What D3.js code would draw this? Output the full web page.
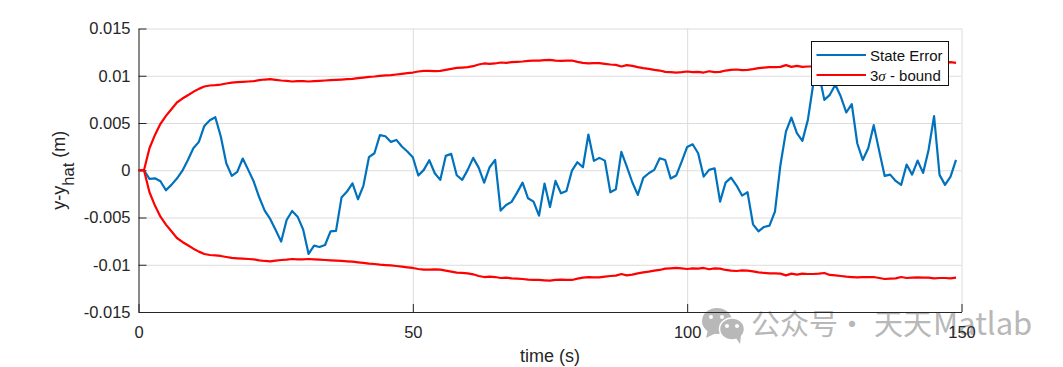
<!DOCTYPE html>
<html>
<head>
<meta charset="utf-8">
<script src="https://cdn.jsdelivr.net/npm/d3@7"></script>
<style>
  html, body { margin: 0; padding: 0; background: #fff; }
  svg { display: block; font-family: "Liberation Sans", Arial, sans-serif; }
</style>
</head>
<body>
<svg id="grafico" width="1063" height="367"></svg>
<script>
// valores en unidades de 1e-3 m, un punto por segundo (t = 0..149)
const stateError = [
  0, 0, -0.92, -0.85, -1.16, -2.12, -1.55, -0.88, -0.04, 1.09,
  2.33, 3.00, 4.69, 5.30, 5.61, 3.57, 0.74, -0.60, -0.18, 1.24,
  0.04, -1.20, -2.86, -4.27, -5.15, -6.32, -7.55, -5.26, -4.31, -4.91,
  -6.25, -8.86, -7.98, -8.12, -7.91, -6.46, -6.42, -2.89, -2.26, -1.38,
  -3.07, -1.62, 1.38, 1.80, 3.71, 3.60, 3.00, 3.21, 2.51, 1.98,
  1.38, -0.56, 0.04, 1.06, -0.32, -1.02, 1.52, 1.73, -0.53, -1.02,
  0.04, 1.31, 0.28, -1.31, 0.32, 1.09, -4.27, -3.67, -3.35, -2.37,
  -1.31, -2.97, -3.32, -4.80, -1.41, -3.88, -1.13, -2.44, -2.19, -0.04,
  0.85, 0.32, 3.78, 0.99, 1.31, 1.02, -2.33, -2.01, 1.94, 0.39,
  -1.27, -2.61, -0.81, -0.32, 0.04, 1.27, 1.09, -0.88, -0.56, 0.92,
  2.47, 2.75, 1.80, -0.67, 0.04, 0.21, -3.32, -1.31, -0.78, -1.62,
  -2.68, -2.33, -5.72, -6.46, -6.00, -5.86, -4.38, 0.56, 4.09, 5.58,
  3.92, 3.11, 5.33, 9.21, 10.27, 7.45, 7.98, 9.04, 7.80, 6.11,
  6.99, 2.86, 1.09, 2.33, 4.77, 2.05, -0.60, -0.46, -1.13, -1.55,
  0.60, -0.46, 1.02, -0.28, 2.15, 5.72, -0.49, -1.55, -0.67, 1.09
];

const boundUpper = [
  0, 0, 2.33, 3.74, 4.91, 5.75, 6.46, 7.17, 7.59, 7.94,
  8.30, 8.61, 8.86, 8.97, 9.00, 9.07, 9.18, 9.28, 9.32, 9.35,
  9.39, 9.43, 9.53, 9.60, 9.64, 9.57, 9.50, 9.46, 9.39, 9.43,
  9.43, 9.39, 9.43, 9.46, 9.50, 9.53, 9.57, 9.60, 9.64, 9.67,
  9.74, 9.81, 9.88, 9.92, 9.99, 10.03, 10.06, 10.13, 10.20, 10.27,
  10.34, 10.45, 10.52, 10.52, 10.48, 10.52, 10.63, 10.73, 10.84, 10.87,
  10.91, 11.01, 11.19, 11.30, 11.26, 11.30, 11.40, 11.37, 11.44, 11.47,
  11.51, 11.58, 11.61, 11.61, 11.65, 11.68, 11.61, 11.58, 11.61, 11.61,
  11.47, 11.37, 11.30, 11.33, 11.33, 11.26, 11.19, 11.15, 10.98, 11.12,
  11.05, 10.91, 10.80, 10.73, 10.63, 10.55, 10.41, 10.38, 10.34, 10.38,
  10.45, 10.38, 10.41, 10.34, 10.48, 10.38, 10.41, 10.55, 10.63, 10.66,
  10.59, 10.63, 10.70, 10.80, 10.87, 10.91, 10.91, 10.94, 11.12, 10.94,
  11.05, 10.94, 10.98, 10.98, 10.94, 10.87, 11.08, 11.12, 11.19, 11.26,
  11.30, 11.33, 11.30, 11.30, 11.30, 11.40, 11.51, 11.47, 11.44, 11.30,
  11.40, 11.37, 11.33, 11.37, 11.37, 11.44, 11.40, 11.40, 11.44, 11.37
];

const boundLower = [
  0, 0, -2.33, -3.74, -4.91, -5.75, -6.46, -7.17, -7.59, -7.94,
  -8.30, -8.61, -8.86, -8.97, -9.00, -9.07, -9.18, -9.28, -9.32, -9.35,
  -9.39, -9.43, -9.53, -9.60, -9.64, -9.57, -9.50, -9.46, -9.39, -9.43,
  -9.43, -9.39, -9.43, -9.46, -9.50, -9.53, -9.57, -9.60, -9.64, -9.67,
  -9.74, -9.81, -9.88, -9.92, -9.99, -10.03, -10.06, -10.13, -10.20, -10.27,
  -10.34, -10.45, -10.52, -10.52, -10.48, -10.52, -10.63, -10.73, -10.84, -10.87,
  -10.91, -11.01, -11.19, -11.30, -11.26, -11.30, -11.40, -11.37, -11.44, -11.47,
  -11.51, -11.58, -11.61, -11.61, -11.65, -11.68, -11.61, -11.58, -11.61, -11.61,
  -11.47, -11.37, -11.30, -11.33, -11.33, -11.26, -11.19, -11.15, -10.98, -11.12,
  -11.05, -10.91, -10.80, -10.73, -10.63, -10.55, -10.41, -10.38, -10.34, -10.38,
  -10.45, -10.38, -10.41, -10.34, -10.48, -10.38, -10.41, -10.55, -10.63, -10.66,
  -10.59, -10.63, -10.70, -10.80, -10.87, -10.91, -10.91, -10.94, -11.12, -10.94,
  -11.05, -10.94, -10.98, -10.98, -10.94, -10.87, -11.08, -11.12, -11.19, -11.26,
  -11.30, -11.33, -11.30, -11.30, -11.30, -11.40, -11.51, -11.47, -11.44, -11.30,
  -11.40, -11.37, -11.33, -11.37, -11.37, -11.44, -11.40, -11.40, -11.44, -11.37
];

const xTicks = [0, 50, 100, 150];
const yTicks = [-0.015, -0.01, -0.005, 0, 0.005, 0.01, 0.015];
const yTickLabels = ["-0.015", "-0.01", "-0.005", "0", "0.005", "0.01", "0.015"];

const svg = d3.select("#grafico");

const margin = {top: 28.5, right: 101.5, bottom: 55, left: 138.5},
      width = +svg.attr("width") - margin.left - margin.right,
      height = +svg.attr("height") - margin.top - margin.bottom;

// marca de agua, queda debajo del grafico
const wm = svg.append("g").attr("fill", "#b8b8b8");
wm.append("ellipse").attr("cx", 717).attr("cy", 321).attr("rx", 15).attr("ry", 13);
wm.append("path").attr("d", "M708 330 L706 338 L716 333 Z");
wm.append("ellipse").attr("cx", 732).attr("cy", 329).attr("rx", 12.5).attr("ry", 11).attr("stroke", "#fff").attr("stroke-width", 1.5);
wm.append("path").attr("d", "M736 338 L740 344 L741 335 Z");
[[711, 317], [722, 317], [727, 326], [737, 326]].forEach(p => {
  wm.append("circle").attr("cx", p[0]).attr("cy", p[1]).attr("r", 2).attr("fill", "#fff");
});
const wmFont = "'Noto Sans CJK SC', 'Noto Sans', sans-serif";
wm.append("text").attr("x", 751).attr("y", 335)
  .attr("font-family", wmFont).attr("font-size", 29).text("公众号");
wm.append("text").attr("x", 852).attr("y", 335).attr("text-anchor", "middle")
  .attr("font-family", wmFont).attr("font-size", 29).text("·");
wm.append("text").attr("x", 874).attr("y", 335)
  .attr("font-family", wmFont).attr("font-size", 29).text("天天");
wm.append("text").attr("x", 933).attr("y", 335)
  .attr("font-family", wmFont).attr("font-size", 31).text("Matlab");

const g = svg.append("g").attr("transform", `translate(${margin.left},${margin.top})`);

const x = d3.scaleLinear().domain([0, 150]).range([0, width]);
const y = d3.scaleLinear().domain([-0.015, 0.015]).range([height, 0]);

// rejilla
g.append("g")
  .attr("transform", `translate(0,${height})`)
  .call(d3.axisBottom(x).tickValues(xTicks).tickSize(-height).tickFormat(""))
  .call(s => s.select(".domain").remove())
  .call(s => s.selectAll("line").attr("stroke", "#dcdcdc"));
g.append("g")
  .call(d3.axisLeft(y).tickValues(yTicks).tickSize(-width).tickFormat(""))
  .call(s => s.select(".domain").remove())
  .call(s => s.selectAll("line").attr("stroke", "#dcdcdc"));

// ejes, marcas hacia adentro
const ejeX = g.append("g")
  .attr("transform", `translate(0,${height})`)
  .call(d3.axisBottom(x).tickValues(xTicks).tickSizeInner(-8).tickSizeOuter(0).tickPadding(14));
const ejeY = g.append("g")
  .call(d3.axisLeft(y).tickValues(yTicks).tickSizeInner(-8).tickSizeOuter(0).tickPadding(8)
    .tickFormat((d, i) => yTickLabels[i]));
[ejeX, ejeY].forEach(e => {
  e.selectAll("line").attr("stroke", "#262626");
  e.select(".domain").attr("stroke", "#262626");
  e.selectAll("text").attr("fill", "#262626").attr("font-size", 16.5)
    .attr("font-family", "'Liberation Sans', Arial, sans-serif");
});

const linea = d3.line()
  .x((d, i) => x(i))
  .y(d => y(d / 1000));

g.append("path").datum(stateError)
  .attr("d", linea).attr("fill", "none")
  .attr("stroke", "#0072BD").attr("stroke-width", 2.2).attr("stroke-linejoin", "round");
[boundUpper, boundLower].forEach(serie => {
  g.append("path").datum(serie)
    .attr("d", linea).attr("fill", "none")
    .attr("stroke", "#FF0000").attr("stroke-width", 2.2).attr("stroke-linejoin", "round");
});

// etiquetas
svg.append("text")
  .attr("x", margin.left + width / 2).attr("y", 362)
  .attr("text-anchor", "middle").attr("font-size", 18).attr("fill", "#262626")
  .text("time (s)");

const yLabel = svg.append("text")
  .attr("transform", `translate(65,${margin.top + height / 2}) rotate(-90)`)
  .attr("text-anchor", "middle").attr("font-size", 18).attr("fill", "#262626");
yLabel.append("tspan").text("y-y");
yLabel.append("tspan").attr("font-size", 16.5).attr("dy", 9).text("hat");
yLabel.append("tspan").attr("dy", -9).text(" (m)");

// leyenda
const leyenda = svg.append("g").attr("transform", "translate(811.5,41.5)");
leyenda.append("rect")
  .attr("width", 137).attr("height", 44)
  .attr("fill", "#fff").attr("stroke", "#111").attr("stroke-width", 1);
const filas = [
  {color: "#0072BD", fila: 13.5},
  {color: "#FF0000", fila: 33.5}
];
filas.forEach(f => {
  leyenda.append("line")
    .attr("x1", 5).attr("x2", 54.5).attr("y1", f.fila).attr("y2", f.fila)
    .attr("stroke", f.color).attr("stroke-width", 2);
});
leyenda.append("text").attr("x", 58.5).attr("y", 19).attr("font-size", 15).attr("fill", "#111").text("State Error");
const t2 = leyenda.append("text").attr("x", 58.5).attr("y", 39).attr("font-size", 15).attr("fill", "#111");
t2.append("tspan").text("3");
t2.append("tspan").attr("font-family", "'Liberation Serif', serif").attr("font-style", "italic").text("σ");
t2.append("tspan").text(" - bound");
</script>
</body>
</html>
